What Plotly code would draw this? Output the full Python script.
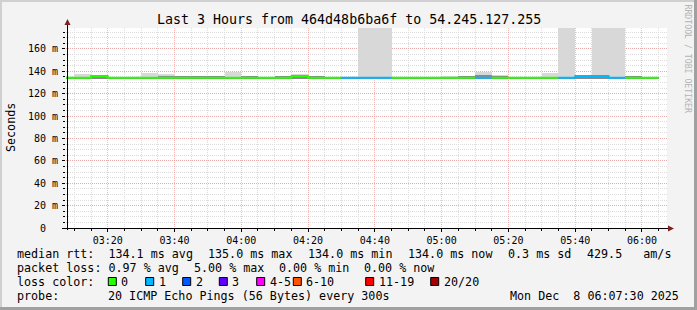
import plotly.graph_objects as go
from datetime import datetime, timedelta

# ---------------- data ----------------
bin_starts = ["03:05","03:10","03:15","03:20","03:25","03:30","03:35","03:40","03:45","03:50",
              "03:55","04:00","04:05","04:10","04:15","04:20","04:25","04:30","04:35","04:40",
              "04:45","04:50","04:55","05:00","05:05","05:10","05:15","05:20","05:25","05:30",
              "05:35","05:40","05:45","05:50","05:55","06:00"]
median_ms = [134.2,134.2,135.6,134.2,134.2,134.2,134.2,134.2,134.2,134.2,
             134.2,134.2,134.2,134.2,135.6,134.2,134.2,134.2,134.2,134.2,
             134.2,134.2,134.2,134.2,134.2,134.2,134.2,134.2,134.2,134.2,
             134.2,135.6,135.6,134.2,134.2,134.2]
loss_count = [0,0,0,0,0,0,0,0,0,0,
              0,0,0,0,0,0,0,1,1,1,
              0,0,0,0,0,1,0,0,0,0,
              1,1,1,1,0,0]
smoke_max = [134.2,137.5,136.2,134.2,134.2,138.4,137.5,136.0,136.0,136.0,
             139.3,136.0,134.2,136.0,137.5,136.0,134.2,134.2,200.0,200.0,
             134.2,134.2,134.2,135.7,135.5,139.6,136.6,134.2,134.2,138.7,
             200.0,136.5,200.0,200.0,135.5,134.2]
smoke_dark = [134.2,135.2,136.2,134.2,134.2,135.2,135.8,135.8,135.8,135.8,
              135.2,135.8,134.2,135.8,136.2,135.8,134.2,134.2,135.2,135.2,
              134.2,134.2,134.2,134.2,135.5,136.6,135.8,134.2,134.2,135.2,
              135.2,136.5,136.5,135.2,135.5,134.2]

loss_labels = ["0","1","2","3","4-5","6-10","11-19","20/20"]
loss_colors = ["#26ff00","#00b8ff","#0059ff","#5e00ff","#ff00ff","#ff5500","#ff0000","#a00000"]

y_ticks = [0,20,40,60,80,100,120,140,160]
y_ticktext = ["0\u00a0\u00a0","20 m","40 m","60 m","80 m","100 m","120 m","140 m","160 m"]

title_text = "Last 3 Hours from 464d48b6ba6f to 54.245.127.255"
line1 = [("median rtt:\u00a0\u00a0134.1 ms avg", 16), ("135.0 ms max", 207), ("134.0 ms min", 306.7),
         ("134.0 ms now", 406.7), ("0.3 ms sd", 506.7), ("429.5\u00a0\u00a0\u00a0am/s", 586)]
line2 = [("packet loss: 0.97 % avg", 16), ("5.00 % max", 192.7), ("0.00 % min", 278), ("0.00 % now", 363)]
probe_text = "20 ICMP Echo Pings (56 Bytes) every 300s"
date_text = "Mon Dec\u00a0\u00a08 06:07:30 2025"

# ---------------- geometry helpers ----------------
W, H = 697, 310
L, R, T, B = 66, 667, 28, 228
def xp(px): return (px - L) / (R - L)
def yp(py): return (B - py) / (B - T)

day = "2025-12-08 "
def t(s): return datetime.strptime(day + s, "%Y-%m-%d %H:%M")
starts = [t(s) for s in bin_starts]
step = timedelta(minutes=5)

fig = go.Figure()

# smoke
base = 133.4
fig.add_trace(go.Bar(x=[s + step/2 for s in starts], y=[m - base for m in smoke_max], base=base,
                     width=300000, marker=dict(color="#d8d8d8", line=dict(width=0)), hoverinfo="skip"))
fig.add_trace(go.Bar(x=[s + step/2 for s in starts], y=[m - base for m in smoke_dark], base=base,
                     width=300000, marker=dict(color="#8a8a8a", line=dict(width=0)), hoverinfo="skip"))

# median line coloured by loss
def loss_class(n):
    if n <= 3: return n
    if n <= 5: return 4
    if n <= 10: return 5
    if n <= 19: return 6
    return 7
classes = [loss_class(n) for n in loss_count]
i = 0
while i < len(starts):
    c = classes[i]
    j = i
    while j + 1 < len(starts) and classes[j + 1] == c:
        j += 1
    xs = [starts[k] for k in range(i, j + 1)] + [starts[j] + step]
    ys = [median_ms[k] for k in range(i, j + 1)] + [median_ms[j]]
    fig.add_trace(go.Scatter(x=xs, y=ys, mode="lines", line=dict(color=loss_colors[c], width=2, shape="hv"),
                             hoverinfo="skip"))
    i = j + 1

grid_minor = "#dcdcdc"
grid_major = "rgba(240,140,140,0.6)"
fig.update_layout(
    width=W, height=H, margin=dict(l=L, r=W - R, t=T, b=H - B, autoexpand=False),
    paper_bgcolor="#f3f3f3", plot_bgcolor="#ffffff", showlegend=False, barmode="overlay", bargap=0,
    font=dict(family="DejaVu Sans Mono", size=10, color="#000000"),
    xaxis=dict(type="date", range=[t("03:07") + timedelta(seconds=30), t("06:07") + timedelta(seconds=30)],
               tickformat="%H:%M", dtick=20 * 60 * 1000, tick0=t("03:00"),
               showgrid=True, gridcolor=grid_major, griddash="1px,1px", gridwidth=1,
               ticks="outside", ticklen=3, tickcolor="#000000", showline=False, zeroline=False,
               tickfont=dict(size=10),
               minor=dict(dtick=5 * 60 * 1000, tick0=t("03:00"), showgrid=True, gridcolor=grid_minor,
                          griddash="1px,1px", ticks="outside", ticklen=2, tickcolor="#000000")),
    yaxis=dict(range=[0, 200 / 1.12], tickvals=y_ticks, ticktext=y_ticktext,
               showgrid=True, gridcolor=grid_major, griddash="1px,1px", gridwidth=1,
               ticks="outside", ticklen=3, tickcolor="#000000", showline=False, zeroline=False,
               tickfont=dict(size=10), ticklabelstandoff=2,
               minor=dict(dtick=5, showgrid=True, gridcolor=grid_minor, griddash="1px,1px",
                          ticks="outside", ticklen=2, tickcolor="#000000")),
)

shapes = []
# frame borders
shapes.append(dict(type="rect", xref="paper", yref="paper", x0=xp(0), x1=xp(W), y0=yp(0), y1=yp(2),
                   fillcolor="#d0d0d0", line=dict(width=0), layer="above"))
shapes.append(dict(type="rect", xref="paper", yref="paper", x0=xp(0), x1=xp(2), y0=yp(0), y1=yp(H),
                   fillcolor="#d0d0d0", line=dict(width=0), layer="above"))
shapes.append(dict(type="rect", xref="paper", yref="paper", x0=xp(W - 3), x1=xp(W), y0=yp(0), y1=yp(H),
                   fillcolor="#a0a0a0", line=dict(width=0), layer="above"))
shapes.append(dict(type="rect", xref="paper", yref="paper", x0=xp(0), x1=xp(W), y0=yp(H - 3), y1=yp(H),
                   fillcolor="#a0a0a0", line=dict(width=0), layer="above"))
# axes lines
shapes.append(dict(type="line", xref="paper", yref="paper", x0=xp(67.5), x1=xp(67.5), y0=yp(230), y1=yp(23),
                   line=dict(color="#000000", width=1), layer="above"))
shapes.append(dict(type="line", xref="paper", yref="paper", x0=xp(65), x1=xp(669), y0=yp(228.5), y1=yp(228.5),
                   line=dict(color="#000000", width=1), layer="above"))
# arrows
def path(pts):
    return "M " + " L ".join(f"{xp(a):.5f},{yp(b):.5f}" for a, b in pts) + " Z"
shapes.append(dict(type="path", xref="paper", yref="paper", path=path([(64.5, 25), (70.5, 25), (67.5, 19)]),
                   fillcolor="#7f1f1f", line=dict(width=0), layer="above"))
shapes.append(dict(type="path", xref="paper", yref="paper", path=path([(668, 225.5), (668, 231.5), (674, 228.5)]),
                   fillcolor="#7f1f1f", line=dict(width=0), layer="above"))

annotations = []
def ann(text, x, y, anchor="left", size=11.7, color="#000000", angle=0):
    annotations.append(dict(text=text, xref="paper", yref="paper", x=xp(x), y=yp(y), xanchor=anchor,
                            yanchor="middle", showarrow=False, textangle=angle, borderpad=0,
                            font=dict(family="DejaVu Sans Mono", size=size, color=color)))

ann(title_text, 348.5, 19, anchor="center", size=13.3)
ann("Seconds", 11, 128, anchor="center", angle=-90)
ann("RRDTOOL / TOBI OETIKER", 687.5, 59, anchor="center", size=8.2, color="#b4b4b4", angle=90)
for txt, x in line1:
    ann(txt, x, 254.3)
for txt, x in line2:
    ann(txt, x, 267.8)
ann("loss color:", 16, 281.7)
box_x = [108.3, 145.7, 182.7, 219.3, 256.7, 293.3, 365.7, 430.7]
for lab, col, bx in zip(loss_labels, loss_colors, box_x):
    shapes.append(dict(type="rect", xref="paper", yref="paper", x0=xp(bx), x1=xp(bx + 8), y0=yp(285.5), y1=yp(277.5),
                       fillcolor=col, line=dict(color="#000000", width=1), layer="above"))
    ann(lab, bx + 12, 281.7)
ann("probe:", 16, 295.9)
ann(probe_text, 107.4, 295.9)
ann(date_text, 680, 295.9, anchor="right")

fig.update_layout(shapes=shapes, annotations=annotations)
fig.write_html("out.html")
